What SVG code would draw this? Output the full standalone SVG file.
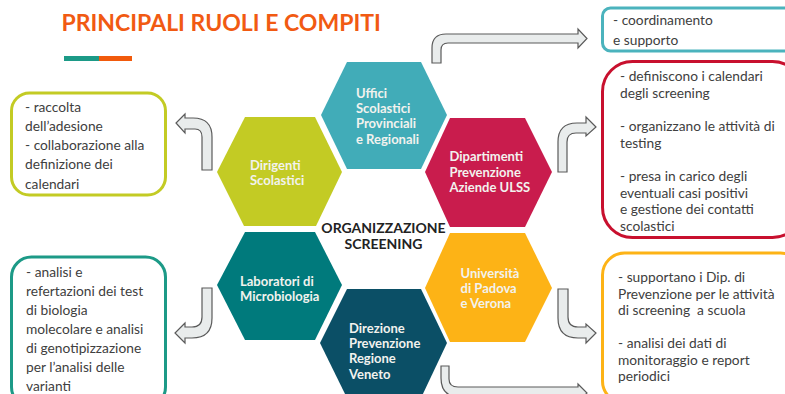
<svg xmlns="http://www.w3.org/2000/svg" width="785" height="394" viewBox="0 0 785 394">
<style>
text{font-family:Lato,"Open Sans","Liberation Sans",sans-serif}
.t{font-size:13.75px;fill:#404040}
.h{font-size:13px;font-weight:700;fill:#f2f2ee}
.b{fill:#fff;stroke-width:3}
.a{fill:#e9ecec;stroke:#5a5a5a;stroke-width:1.2}
.c{font-size:14px;font-weight:700;fill:#222;text-anchor:middle}
</style>
<rect width="785" height="394" fill="#fff"/>
<text x="61.500" y="31" font-size="23" font-weight="700" fill="#f15a12">PRINCIPALI RUOLI E COMPITI</text>
<rect x="64" y="56" width="35" height="5" fill="#1c9a87"/>
<rect x="99" y="56" width="33" height="5" fill="#f15a0c"/>

<g id="connectors">
<path class="a" d="M432 63V48Q432 34 446 34H578V29L587 38.500 578 48V43H448Q441 43 441 50V63Z"/>
<path class="a" d="M558 172V142Q558 123 577 123H586V117L596 127 586 136V133H576Q567 133 567 142V172Z"/>
<path class="a" d="M212 170V137Q212 118 193 118H185V114L176 123 185 133V129H195Q202 129 202 137V170Z"/>
<path class="a" d="M212 288V318Q212 338 192 338H185V343L175 333 185 323V327H192Q202 327 202 317V288Z"/>
<path class="a" d="M558 289V318Q558 338 578 338H586V343L596 333 586 324V327H578Q568 327 568 317V289Z"/>
<path class="a" d="M441 366V378Q441 397 460 397H578V402L587 393 578 384V387H458Q449 387 449 379V366Z"/>
</g>

<g id="box-dirigenti"><rect class="b" x="11.500" y="93" width="154" height="102" rx="18" stroke="#c3cb24"/>
<text class="t" x="25" y="112">- raccolta</text><text class="t" x="25" y="131">dell’adesione</text><text class="t" x="25" y="150">- collaborazione alla</text><text class="t" x="25" y="169">definizione dei</text><text class="t" x="25" y="189">calendari</text></g>

<g id="box-laboratori"><rect class="b" x="11.500" y="257" width="154" height="150" rx="20" stroke="#1c9a87"/>
<text class="t" x="26" y="277">- analisi e</text><text class="t" x="26" y="296">refertazioni dei test</text><text class="t" x="26" y="315">di biologia</text><text class="t" x="26" y="334">molecolare e analisi</text><text class="t" x="26" y="353">di genotipizzazione</text><text class="t" x="26" y="372">per l’analisi delle</text><text class="t" x="26" y="391">varianti</text></g>

<g id="box-uffici"><rect class="b" x="602.500" y="8" width="200" height="43" rx="8" stroke="#4bb3bd"/>
<text class="t" x="613" y="25">- coordinamento</text><text class="t" x="613" y="45">e supporto</text></g>

<g id="box-dipartimenti"><rect class="b" x="602.500" y="61.500" width="200" height="176" rx="30" stroke="#c8102e"/>
<text class="t" x="620" y="81">- definiscono i calendari</text><text class="t" x="620" y="98">degli screening</text><text class="t" x="620" y="131">- organizzano le attività di</text><text class="t" x="620" y="148">testing</text><text class="t" x="620" y="181">- presa in carico degli</text><text class="t" x="620" y="198">eventuali casi positivi</text><text class="t" x="620" y="214">e gestione dei contatti</text><text class="t" x="620" y="231">scolastici</text></g>

<g id="box-universita"><rect class="b" x="602.500" y="253" width="200" height="150" rx="22" stroke="#fdb316"/>
<text class="t" x="618" y="282">- supportano i Dip. di</text><text class="t" x="618" y="299">Prevenzione per le attività</text><text class="t" x="618" y="315" xml:space="preserve">di screening  a scuola</text><text class="t" x="618" y="348">- analisi dei dati di</text><text class="t" x="618" y="365">monitoraggio e report</text><text class="t" x="618" y="381">periodici</text></g>

<g id="node-uffici"><polygon points="321,115 347,62 421,62 447,115 421,169 347,169" fill="#41acb8"/>
<text class="h" x="356" y="98">Uffici</text><text class="h" x="356" y="113">Scolastici</text><text class="h" x="356" y="128">Provinciali</text><text class="h" x="356" y="144">e Regionali</text></g>

<g id="node-dirigenti"><polygon points="217,172 245,117 315,117 342,172 316,226 244,226" fill="#c3cb24"/>
<text class="h" x="250" y="170">Dirigenti</text><text class="h" x="250" y="185">Scolastici</text></g>

<g id="node-dipartimenti"><polygon points="425,172 450,118 525,118 552,172 525,227 450,227" fill="#c91c4d"/>
<text class="h" x="449.500" y="161">Dipartimenti</text><text class="h" x="449.500" y="177">Prevenzione</text><text class="h" x="449.500" y="192">Aziende ULSS</text></g>

<g id="node-laboratori"><polygon points="217,285 245,232 315,232 342,285 315,340 245,340" fill="#007a7c"/>
<text class="h" x="240" y="286">Laboratori di</text><text class="h" x="240" y="301">Microbiologia</text></g>

<g id="node-universita"><polygon points="425,288 450,233 525,233 552,288 525,342 450,342" fill="#fdb316"/>
<text class="h" x="460.500" y="278">Università</text><text class="h" x="460.500" y="293">di Padova</text><text class="h" x="460.500" y="308">e Verona</text></g>

<g id="node-direzione"><polygon points="320,343 347,289 421,289 447,343 421,398 347,398" fill="#0b4f66"/>
<text class="h" x="349" y="333">Direzione</text><text class="h" x="349" y="348">Prevenzione</text><text class="h" x="349" y="363">Regione</text><text class="h" x="349" y="379">Veneto</text></g>

<g id="label-centro"><text class="c" x="383.500" y="233">ORGANIZZAZIONE</text>
<text class="c" x="383.500" y="249">SCREENING</text></g>
</svg>
